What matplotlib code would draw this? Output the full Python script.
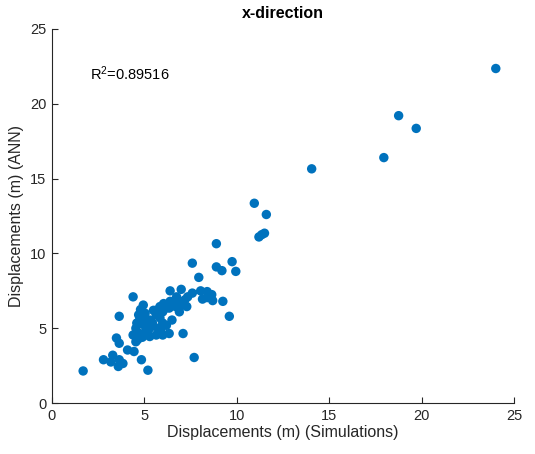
import matplotlib.pyplot as plt

# Simulated vs ANN-predicted displacements (m), x-direction
sim_x = [24.0, 18.75, 19.7, 17.95, 14.05, 10.95, 11.6, 11.35, 11.2, 11.5, 8.9,
         7.6, 8.9, 9.2, 9.75, 9.95, 7.95, 9.25, 9.6, 7.7, 1.7, 5.2, 7.1, 6.5,
         7.0, 6.4, 7.6, 8.05, 8.4, 8.65, 8.4, 8.7, 8.15, 7.2, 7.35, 6.75, 6.9,
         7.05, 7.3, 6.4, 6.05, 5.85, 5.65, 6.0, 6.35, 6.7, 6.9,
         4.4, 4.95, 4.8, 3.65, 5.3, 5.45, 5.65, 5.85, 6.0, 5.75, 4.75, 4.95,
         4.55, 5.1, 4.75, 4.4, 5.3, 5.65, 6.0, 6.35, 5.9, 5.1, 5.3, 6.2, 5.05,
         4.6, 5.0, 5.5, 6.1, 5.2, 4.9, 4.7, 6.6,
         3.5, 3.65, 4.55, 4.65, 4.1, 4.45, 3.3, 2.8, 3.2, 3.65, 3.85, 3.6, 4.85]
ann_y = [22.35, 19.2, 18.35, 16.4, 15.65, 13.35, 12.6, 11.25, 11.1, 11.35, 10.65,
         9.35, 9.1, 8.85, 9.45, 8.8, 8.4, 6.8, 5.8, 3.05, 2.15, 2.2, 4.65, 5.55,
         7.6, 7.5, 7.35, 7.5, 7.45, 7.25, 7.05, 6.85, 6.95, 6.9, 7.1, 7.1, 6.8,
         6.55, 6.45, 6.8, 6.65, 6.45, 6.2, 6.1, 6.35, 6.45, 6.1,
         7.1, 6.55, 6.25, 5.8, 5.55, 5.35, 5.9, 5.7, 5.35, 5.0, 5.55, 5.25,
         5.0, 4.9, 4.65, 4.55, 4.45, 4.55, 4.55, 4.65, 4.9, 5.55, 5.0, 5.2, 6.0,
         5.35, 5.8, 6.2, 6.3, 4.6, 4.4, 5.9, 6.7,
         4.35, 4.0, 4.1, 4.25, 3.55, 3.45, 3.2, 2.9, 2.75, 2.9, 2.65, 2.45, 2.9]
r2_value = 0.89516

text_color = '#262626'
plt.rcParams['font.family'] = ['Liberation Sans', 'DejaVu Sans']

fig = plt.figure(figsize=(5.35, 4.54), dpi=100)
ax = fig.add_axes([0.0966, 0.112, 0.8647, 0.8245])

ax.scatter(sim_x, ann_y, s=46, c='#0072BD', edgecolors='none')

ax.set_xlim(0, 25)
ax.set_ylim(0, 25)
ax.set_xticks([0, 5, 10, 15, 20, 25])
ax.set_yticks([0, 5, 10, 15, 20, 25])

ax.spines['top'].set_visible(False)
ax.spines['right'].set_visible(False)
for side in ['left', 'bottom']:
    ax.spines[side].set_color(text_color)
    ax.spines[side].set_linewidth(0.8)
ax.tick_params(direction='in', length=4, width=0.8, colors=text_color,
               labelsize=10.5, pad=4)

ax.set_xlabel('Displacements (m) (Simulations)', fontsize=11.5, color=text_color, labelpad=2)
ax.set_ylabel('Displacements (m) (ANN)', fontsize=11.5, color=text_color, labelpad=4)
ax.set_title('x-direction', fontsize=11.5, fontweight='bold', color='black', pad=8)

ax.text(2.05, 22.0, '$\\mathregular{R^2}$=%.5f' % r2_value, fontsize=10.5,
        color='black', va='center', ha='left')

plt.savefig('out.png', dpi=100)
